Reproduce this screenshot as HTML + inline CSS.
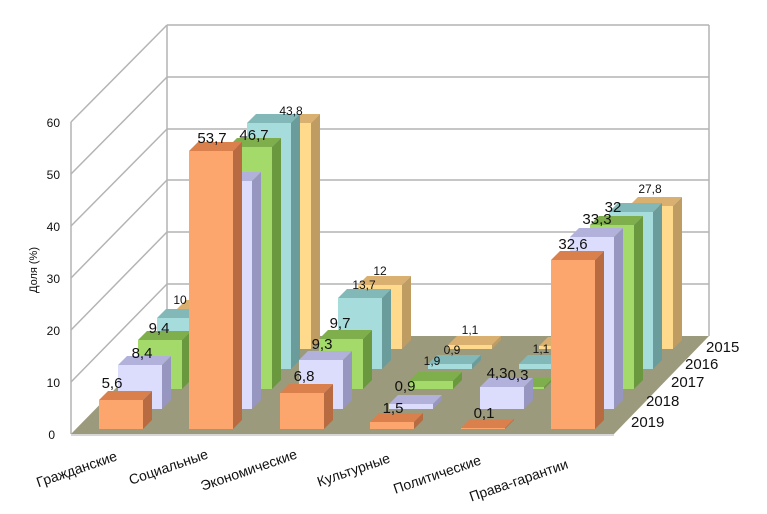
<!DOCTYPE html>
<html><head><meta charset="utf-8"><style>
html,body{margin:0;padding:0;background:#fff}
svg{display:block}
text{font-family:"Liberation Sans",sans-serif;fill:#111}
.o rect{fill:#fca56c}.o .t{fill:#d9804d}.o .s{fill:#b86a40}
.p rect{fill:#dcdcfc}.p .t{fill:#b2b1dc}.p .s{fill:#9796c0}
.g rect{fill:#a4da6a}.g .t{fill:#7fae4c}.g .s{fill:#6a983e}
.c rect{fill:#a6dcdc}.c .t{fill:#82b8b8}.c .s{fill:#6a9c9c}
.y rect{fill:#ffda8c}.y .t{fill:#d9b070}.y .s{fill:#be9c62}
</style></head><body>
<svg width="767" height="514" viewBox="0 0 767 514" xmlns="http://www.w3.org/2000/svg">
<g stroke="#b4b4b4" stroke-width="1.5" fill="none">
<line x1="167" y1="25" x2="709" y2="25"/>
<line x1="167" y1="77" x2="709" y2="77"/>
<line x1="167" y1="129" x2="709" y2="129"/>
<line x1="167" y1="180" x2="709" y2="180"/>
<line x1="167" y1="232" x2="709" y2="232"/>
<line x1="167" y1="284" x2="709" y2="284"/>
<line x1="167" y1="25" x2="167" y2="336"/>
<line x1="709" y1="25" x2="709" y2="336"/>
<line x1="71" y1="122" x2="71" y2="434"/>
<line x1="71" y1="122" x2="167" y2="25"/>
<line x1="71" y1="174" x2="167" y2="77"/>
<line x1="71" y1="226" x2="167" y2="129"/>
<line x1="71" y1="278" x2="167" y2="180"/>
<line x1="71" y1="330" x2="167" y2="232"/>
<line x1="71" y1="382" x2="167" y2="284"/>
</g>
<polygon points="71,434 614,434 709,336 167,336" fill="#9c9a7c"/>
<line x1="71" y1="435" x2="614" y2="435" stroke="#c8c8c8" stroke-width="1.5"/>

<g class="y" transform="translate(177,309)"><rect width="44" height="40"/><polygon class="t" points="0,0 9,-9 53,-9 44,0"/><polygon class="s" points="44,0 53,-9 53,31 44,40"/></g>
<g class="y" transform="translate(267,123)"><rect width="44" height="226"/><polygon class="t" points="0,0 9,-9 53,-9 44,0"/><polygon class="s" points="44,0 53,-9 53,217 44,226"/></g>
<g class="y" transform="translate(358,285)"><rect width="44" height="64"/><polygon class="t" points="0,0 9,-9 53,-9 44,0"/><polygon class="s" points="44,0 53,-9 53,55 44,64"/></g>
<g class="y" transform="translate(448,345)"><rect width="44" height="4"/><polygon class="t" points="0,0 9,-9 53,-9 44,0"/><polygon class="s" points="44,0 53,-9 53,-5 44,4"/></g>
<g class="y" transform="translate(539,346)"><rect width="44" height="3"/><polygon class="t" points="0,0 9,-9 53,-9 44,0"/><polygon class="s" points="44,0 53,-9 53,-6 44,3"/></g>
<g class="y" transform="translate(629,206)"><rect width="44" height="143"/><polygon class="t" points="0,0 9,-9 53,-9 44,0"/><polygon class="s" points="44,0 53,-9 53,134 44,143"/></g>

<g class="c" transform="translate(157,318)"><rect width="44" height="51"/><polygon class="t" points="0,0 9,-9 53,-9 44,0"/><polygon class="s" points="44,0 53,-9 53,42 44,51"/></g>
<g class="c" transform="translate(247,123)"><rect width="44" height="246"/><polygon class="t" points="0,0 9,-9 53,-9 44,0"/><polygon class="s" points="44,0 53,-9 53,237 44,246"/></g>
<g class="c" transform="translate(338,298)"><rect width="44" height="71"/><polygon class="t" points="0,0 9,-9 53,-9 44,0"/><polygon class="s" points="44,0 53,-9 53,62 44,71"/></g>
<g class="c" transform="translate(428,364)"><rect width="44" height="5"/><polygon class="t" points="0,0 9,-9 53,-9 44,0"/><polygon class="s" points="44,0 53,-9 53,-4 44,5"/></g>
<g class="c" transform="translate(519,364)"><rect width="44" height="5"/><polygon class="t" points="0,0 9,-9 53,-9 44,0"/><polygon class="s" points="44,0 53,-9 53,-4 44,5"/></g>
<g class="c" transform="translate(609,212)"><rect width="44" height="157"/><polygon class="t" points="0,0 9,-9 53,-9 44,0"/><polygon class="s" points="44,0 53,-9 53,148 44,157"/></g>

<g class="g" transform="translate(138,340)"><rect width="44" height="49"/><polygon class="t" points="0,0 9,-9 53,-9 44,0"/><polygon class="s" points="44,0 53,-9 53,40 44,49"/></g>
<g class="g" transform="translate(228,147)"><rect width="44" height="242"/><polygon class="t" points="0,0 9,-9 53,-9 44,0"/><polygon class="s" points="44,0 53,-9 53,233 44,242"/></g>
<g class="g" transform="translate(319,339)"><rect width="44" height="50"/><polygon class="t" points="0,0 9,-9 53,-9 44,0"/><polygon class="s" points="44,0 53,-9 53,41 44,50"/></g>
<g class="g" transform="translate(409,381)"><rect width="44" height="8"/><polygon class="t" points="0,0 9,-9 53,-9 44,0"/><polygon class="s" points="44,0 53,-9 53,-1 44,8"/></g>
<g class="g" transform="translate(500,387)"><rect width="44" height="2"/><polygon class="t" points="0,0 9,-9 53,-9 44,0"/><polygon class="s" points="44,0 53,-9 53,-7 44,2"/></g>
<g class="g" transform="translate(590,225)"><rect width="44" height="164"/><polygon class="t" points="0,0 9,-9 53,-9 44,0"/><polygon class="s" points="44,0 53,-9 53,155 44,164"/></g>

<g class="p" transform="translate(118,365)"><rect width="44" height="44"/><polygon class="t" points="0,0 9,-9 53,-9 44,0"/><polygon class="s" points="44,0 53,-9 53,35 44,44"/></g>
<g class="p" transform="translate(208,181)"><rect width="44" height="228"/><polygon class="t" points="0,0 9,-9 53,-9 44,0"/><polygon class="s" points="44,0 53,-9 53,219 44,228"/></g>
<g class="p" transform="translate(299,360)"><rect width="44" height="49"/><polygon class="t" points="0,0 9,-9 53,-9 44,0"/><polygon class="s" points="44,0 53,-9 53,40 44,49"/></g>
<g class="p" transform="translate(389,404)"><rect width="44" height="5"/><polygon class="t" points="0,0 9,-9 53,-9 44,0"/><polygon class="s" points="44,0 53,-9 53,-4 44,5"/></g>
<g class="p" transform="translate(480,387)"><rect width="44" height="22"/><polygon class="t" points="0,0 9,-9 53,-9 44,0"/><polygon class="s" points="44,0 53,-9 53,13 44,22"/></g>
<g class="p" transform="translate(570,237)"><rect width="44" height="172"/><polygon class="t" points="0,0 9,-9 53,-9 44,0"/><polygon class="s" points="44,0 53,-9 53,163 44,172"/></g>

<g class="o" transform="translate(99,400)"><rect width="44" height="29"/><polygon class="t" points="0,0 9,-9 53,-9 44,0"/><polygon class="s" points="44,0 53,-9 53,20 44,29"/></g>
<g class="o" transform="translate(189,151)"><rect width="44" height="278"/><polygon class="t" points="0,0 9,-9 53,-9 44,0"/><polygon class="s" points="44,0 53,-9 53,269 44,278"/></g>
<g class="o" transform="translate(280,393)"><rect width="44" height="36"/><polygon class="t" points="0,0 9,-9 53,-9 44,0"/><polygon class="s" points="44,0 53,-9 53,27 44,36"/></g>
<g class="o" transform="translate(370,422)"><rect width="44" height="7"/><polygon class="t" points="0,0 9,-9 53,-9 44,0"/><polygon class="s" points="44,0 53,-9 53,-2 44,7"/></g>
<g class="o" transform="translate(461,428)"><rect width="44" height="1"/><polygon class="t" points="0,0 9,-9 53,-9 44,0"/><polygon class="s" points="44,0 53,-9 53,-8 44,1"/></g>
<g class="o" transform="translate(551,260)"><rect width="44" height="169"/><polygon class="t" points="0,0 9,-9 53,-9 44,0"/><polygon class="s" points="44,0 53,-9 53,160 44,169"/></g>

<g font-size="15" text-anchor="middle">
<text x="112" y="388">5,6</text>
<text x="142" y="358">8,4</text>
<text x="159" y="333">9,4</text>
<text x="212" y="143">53,7</text>
<text x="254" y="140">46,7</text>
<text x="304" y="381">6,8</text>
<text x="322" y="349">9,3</text>
<text x="340" y="328">9,7</text>
<text x="393" y="413">1,5</text>
<text x="405" y="391">0,9</text>
<text x="484" y="418">0,1</text>
<text x="497" y="378">4,3</text>
<text x="518" y="380">0,3</text>
<text x="573" y="249">32,6</text>
<text x="597" y="224">33,3</text>
<text x="613" y="212">32</text>
</g>
<g font-size="12" text-anchor="middle">
<text x="180" y="304">10</text>
<text x="291" y="115">43,8</text>
<text x="364" y="289">13,7</text>
<text x="380" y="275">12</text>
<text x="432" y="365">1,9</text>
<text x="452" y="354">0,9</text>
<text x="470" y="334">1,1</text>
<text x="541" y="353">1,1</text>
<text x="650" y="193">27,8</text>
</g>
<g font-size="12" text-anchor="end">
<text x="60" y="127">60</text>
<text x="60" y="179">50</text>
<text x="60" y="231">40</text>
<text x="60" y="283">30</text>
<text x="60" y="335">20</text>
<text x="60" y="387">10</text>
<text x="55" y="439">0</text>
</g>
<text font-size="11" text-anchor="middle" transform="translate(37,270) rotate(-90)">Доля (%)</text>
<g font-size="15">
<text x="706" y="352">2015</text>
<text x="685" y="369">2016</text>
<text x="671" y="387">2017</text>
<text x="646" y="406">2018</text>
<text x="631" y="427">2019</text>
</g>
<g font-size="14" text-anchor="end">
<text transform="translate(118,460) rotate(-19)">Гражданские</text>
<text transform="translate(209,458) rotate(-19)">Социальные</text>
<text transform="translate(298,458) rotate(-19)">Экономические</text>
<text transform="translate(391,462) rotate(-19)">Культурные</text>
<text transform="translate(482,464) rotate(-19)">Политические</text>
<text transform="translate(569,468) rotate(-19)">Права-гарантии</text>
</g>
</svg>
</body></html>
